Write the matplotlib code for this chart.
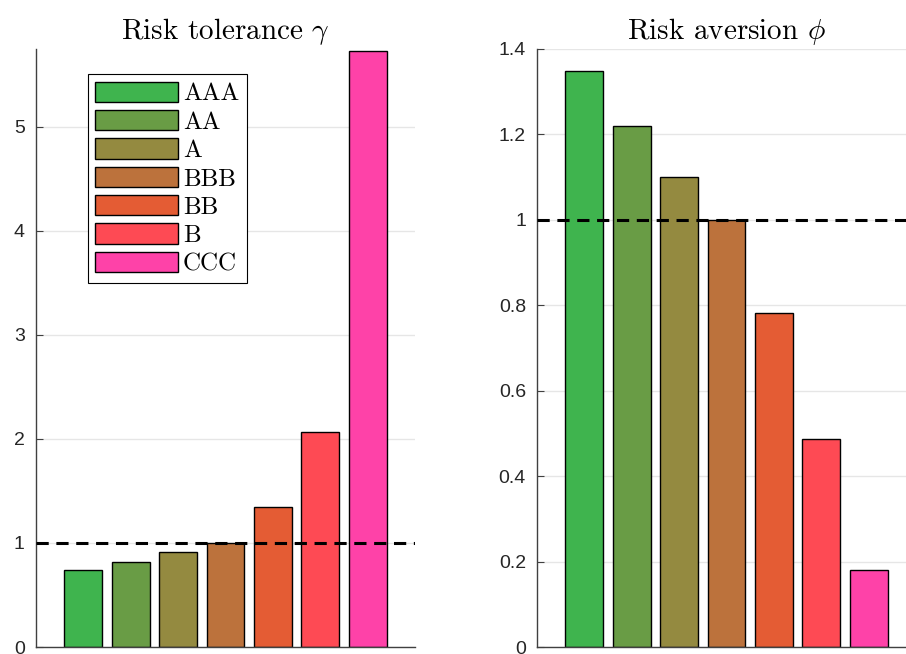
import matplotlib
matplotlib.use("Agg")
import matplotlib.pyplot as plt
import numpy as np

# ratings and values
ratings = ["AAA", "AA", "A", "BBB", "BB", "B", "CCC"]
gamma = [0.74, 0.82, 0.91, 1.0, 1.35, 2.07, 5.73]
phi = [1.348, 1.22, 1.10, 1.0, 0.783, 0.488, 0.181]
colors = ["#3fb44e", "#699c45", "#948a40", "#bc723c", "#e45c34", "#fe4a54", "#fe42a8"]

plt.rcParams["mathtext.fontset"] = "cm"
plt.rcParams["axes.formatter.use_mathtext"] = True
tick_font = "Liberation Sans"
serif_font = "cmr10"

fig = plt.figure(figsize=(9.06, 6.54), dpi=100)
ax1 = fig.add_axes([0.0397, 0.0107, 0.4183, 0.9144])
ax2 = fig.add_axes([0.5927, 0.0107, 0.4183, 0.9144])

x = np.arange(1, len(ratings) + 1)


def style_axes(ax, ymax, yticks, ticklabels):
    ax.set_xlim(0, 8)
    ax.set_ylim(0, ymax)
    ax.set_xticks([])
    ax.set_yticks(yticks)
    ax.set_yticklabels(ticklabels, fontfamily=tick_font, fontsize=14, color="#262626")
    ax.tick_params(axis="y", direction="in", length=5, width=0.8, color="#404040", pad=8)
    for s in ["top", "right"]:
        ax.spines[s].set_visible(False)
    for s in ["left", "bottom"]:
        ax.spines[s].set_color("#404040")
        ax.spines[s].set_linewidth(1.0)
    ax.grid(axis="y", color="#e6e6e6", linewidth=1.0)
    ax.set_axisbelow(True)
    ax.axhline(1, color="black", linestyle=(0, (4, 2.5)), linewidth=2.2, zorder=3)


bars1 = ax1.bar(x, gamma, width=0.8, color=colors, edgecolor="black", linewidth=1.0, zorder=2)
style_axes(ax1, 5.75, [0, 1, 2, 3, 4, 5], ["0", "1", "2", "3", "4", "5"])
ax1.set_title(r"Risk tolerance $\gamma$", fontfamily=serif_font, fontsize=21, pad=7)

ax2.bar(x, phi, width=0.8, color=colors, edgecolor="black", linewidth=1.0, zorder=2)
style_axes(ax2, 1.4, [0, 0.2, 0.4, 0.6, 0.8, 1.0, 1.2, 1.4],
           ["0", "0.2", "0.4", "0.6", "0.8", "1", "1.2", "1.4"])
ax2.set_title(r"Risk aversion $\phi$", fontfamily=serif_font, fontsize=21, pad=7)

leg = ax1.legend(bars1, ratings, loc="upper left", bbox_to_anchor=(0.137, 0.958),
                 borderaxespad=0, fancybox=False, framealpha=1, edgecolor="black",
                 prop={"family": serif_font, "size": 18},
                 handlelength=3.3, handleheight=0.88, labelspacing=0.18,
                 handletextpad=0.2, borderpad=0.3)
leg.get_frame().set_linewidth(0.8)

fig.savefig("out.png", dpi=100)
